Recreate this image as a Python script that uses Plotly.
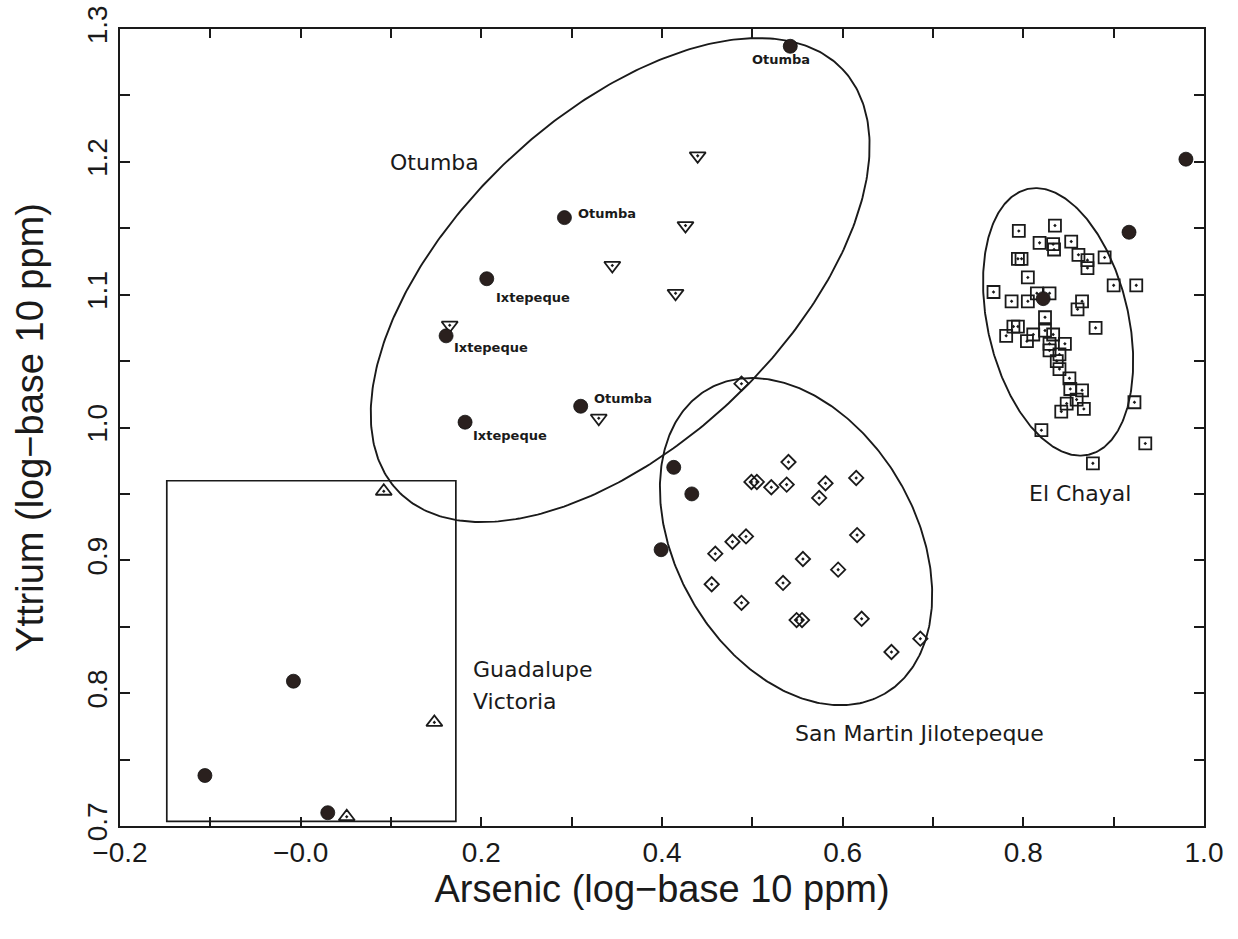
import numpy as np
import plotly.graph_objects as go

# ---------------- data ----------------
# filled circles (unassigned artifacts)
circle_x = [-0.106, -0.008, 0.030, 0.161, 0.182, 0.206, 0.292, 0.310, 0.542,
            0.399, 0.413, 0.433, 0.822, 0.917, 0.980]
circle_y = [0.738, 0.809, 0.710, 1.069, 1.004, 1.112, 1.158, 1.016, 1.287,
            0.908, 0.970, 0.950, 1.097, 1.147, 1.202]

# Guadalupe Victoria source samples (up triangles)
gv_x = [0.092, 0.148, 0.051]
gv_y = [0.952, 0.778, 0.707]

# Otumba source samples (down triangles)
ot_x = [0.4395, 0.426, 0.345, 0.415, 0.165, 0.330]
ot_y = [1.2045, 1.152, 1.122, 1.101, 1.077, 1.007]

# San Martin Jilotepeque source samples (diamonds)
smj_x = [0.488, 0.540, 0.499, 0.505, 0.521, 0.538, 0.581, 0.615, 0.574, 0.478,
         0.493, 0.459, 0.616, 0.556, 0.595, 0.455, 0.534, 0.488, 0.549, 0.555,
         0.621, 0.654, 0.686]
smj_y = [1.033, 0.974, 0.959, 0.959, 0.955, 0.957, 0.958, 0.962, 0.947, 0.914,
         0.918, 0.905, 0.919, 0.901, 0.893, 0.882, 0.883, 0.868, 0.855, 0.855,
         0.856, 0.831, 0.841]

# El Chayal source samples (squares)
ec_x = [0.795, 0.835, 0.818, 0.833, 0.834, 0.853, 0.794, 0.798, 0.861, 0.871,
        0.871, 0.890, 0.805, 0.767, 0.787, 0.805, 0.815, 0.829, 0.900, 0.925,
        0.865, 0.860, 0.824, 0.794, 0.789, 0.781, 0.804, 0.811, 0.824, 0.833,
        0.880, 0.829, 0.846, 0.829, 0.840, 0.837, 0.840, 0.851, 0.852, 0.865,
        0.859, 0.848, 0.842, 0.867, 0.923, 0.820, 0.935, 0.877]
ec_y = [1.148, 1.152, 1.139, 1.138, 1.134, 1.140, 1.127, 1.127, 1.130, 1.126,
        1.120, 1.128, 1.113, 1.102, 1.095, 1.095, 1.101, 1.101, 1.107, 1.107,
        1.095, 1.089, 1.083, 1.076, 1.076, 1.069, 1.065, 1.070, 1.073, 1.070,
        1.075, 1.063, 1.063, 1.058, 1.055, 1.050, 1.044, 1.037, 1.029, 1.028,
        1.021, 1.018, 1.012, 1.014, 1.019, 0.998, 0.988, 0.973]

# point annotations
pt_labels = ["Otumba", "Otumba", "Ixtepeque", "Ixtepeque", "Otumba", "Ixtepeque"]
pt_label_x = [0.532, 0.305, 0.214, 0.168, 0.322, 0.189]
pt_label_y = [1.277, 1.161, 1.098, 1.060, 1.022, 0.994]

# region labels
region_labels = ["Otumba", "Guadalupe", "Victoria", "San Martin Jilotepeque", "El Chayal"]

# axis ticks
x_tickvals = [-0.2, -0.1, 0.0, 0.1, 0.2, 0.3, 0.4, 0.5, 0.6, 0.7, 0.8, 0.9, 1.0]
x_ticktext = ["\u22120.2", "", "\u22120.0", "", "0.2", "", "0.4", "", "0.6", "", "0.8", "", "1.0"]
y_tickvals = [0.70, 0.75, 0.80, 0.85, 0.90, 0.95, 1.00, 1.05, 1.10, 1.15, 1.20, 1.25, 1.30]
y_ticktext = ["0.7", "", "0.8", "", "0.9", "", "1.0", "", "1.1", "", "1.2", "", "1.3"]

# ---------------- figure ----------------
INK = "#1a1a1a"
DOT = "#2a201e"
SX, SY = 902.3, 1327.3  # pixels per data unit of the drawing (for ellipse shapes)


def ellipse(cx, cy, a, b, ang):
    t = np.linspace(0, 2 * np.pi, 400)
    th = np.radians(ang)
    dx = a * np.cos(t) * np.cos(th) - b * np.sin(t) * np.sin(th)
    dy = a * np.cos(t) * np.sin(th) + b * np.sin(t) * np.cos(th)
    return cx + dx / SX, cy + dy / SY


fig = go.Figure()

for (cx, cy, a, b, ang) in [(0.3537, 1.111, 306.1, 163.9, 43.46),
                            (0.5484, 0.9141, 175.9, 119.5, -59.79),
                            (0.8385, 1.0795, 136.2, 70.3, -77.06)]:
    ex, ey = ellipse(cx, cy, a, b, ang)
    fig.add_trace(go.Scatter(x=ex, y=ey, mode="lines",
                             line=dict(color=INK, width=1.9),
                             hoverinfo="skip", showlegend=False))

fig.add_shape(type="rect", x0=-0.1482, x1=0.1718, y0=0.7035, y1=0.9599,
              line=dict(color=INK, width=1.7), fillcolor="rgba(0,0,0,0)")

mk_line = dict(color=INK, width=1.8)
fig.add_trace(go.Scatter(x=ec_x, y=ec_y, mode="markers", name="El Chayal",
                         marker=dict(symbol="square-open-dot", size=12, line=mk_line, color=INK)))
fig.add_trace(go.Scatter(x=smj_x, y=smj_y, mode="markers", name="San Martin Jilotepeque",
                         marker=dict(symbol="diamond-open-dot", size=11, line=mk_line, color=INK)))
fig.add_trace(go.Scatter(x=ot_x, y=ot_y, mode="markers", name="Otumba",
                         marker=dict(symbol="triangle-down-open-dot", size=14, line=mk_line, color=INK)))
fig.add_trace(go.Scatter(x=gv_x, y=gv_y, mode="markers", name="Guadalupe Victoria",
                         marker=dict(symbol="triangle-up-open-dot", size=14, line=mk_line, color=INK)))
fig.add_trace(go.Scatter(x=circle_x, y=circle_y, mode="markers", name="Artifacts",
                         marker=dict(symbol="circle", size=14, color=DOT,
                                     line=dict(color="#111", width=0.8))))

small_font = dict(family="DejaVu Sans", size=13, color=INK, weight="bold")
anchors = ["center", "left", "left", "left", "left", "left"]
for txt, lx, ly, anc in zip(pt_labels, pt_label_x, pt_label_y, anchors):
    fig.add_annotation(x=lx, y=ly, text=txt, showarrow=False, xanchor=anc,
                       yanchor="middle", font=small_font)

big_font = dict(family="DejaVu Sans", size=22, color=INK)
region_pos = [(0.1477, 1.1993, "center"), (0.1887, 0.8175, "left"), (0.1887, 0.794, "left"),
              (0.685, 0.770, "center"), (0.8629, 0.9504, "center")]
for txt, (lx, ly, anc) in zip(region_labels, region_pos):
    fig.add_annotation(x=lx, y=ly, text=txt, showarrow=False, xanchor=anc,
                       yanchor="middle", font=big_font)

tick_font = dict(family="Liberation Sans", size=28, color=INK)
title_font = dict(family="Liberation Sans", size=38, color=INK)

fig.update_xaxes(range=[-0.2, 1.0], tickvals=x_tickvals, ticktext=x_ticktext,
                 ticks="inside", ticklen=9, tickwidth=1.5, tickcolor=INK,
                 showline=True, linecolor=INK, linewidth=2.2, mirror="ticks",
                 showgrid=False, zeroline=False, tickfont=tick_font, automargin=False,
                 title=dict(text="Arsenic (log\u2212base 10 ppm)", font=title_font, standoff=4))
fig.update_yaxes(range=[0.7, 1.3], tickvals=y_tickvals, ticktext=y_ticktext,
                 ticks="inside", ticklen=10, tickwidth=1.5, tickcolor=INK,
                 showline=True, linecolor=INK, linewidth=2.2, mirror="ticks",
                 showgrid=False, zeroline=False, tickfont=tick_font, tickangle=-90,
                 automargin=False,
                 title=dict(text="Yttrium (log\u2212base 10 ppm)", font=title_font, standoff=26))

fig.update_layout(width=1238, height=939, autosize=False,
                  margin=dict(l=120, r=34, t=29, b=113),
                  paper_bgcolor="white", plot_bgcolor="white",
                  showlegend=False)

fig.write_html("out.html", config={"displayModeBar": False},
               post_script="document.body.style.margin='0';")
